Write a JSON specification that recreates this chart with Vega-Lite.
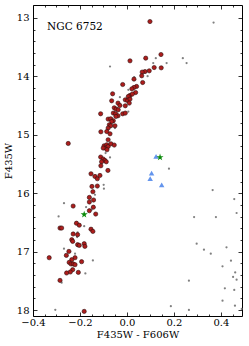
{
  "$schema": "https://vega.github.io/schema/vega-lite/v6.json",
  "width": 209,
  "height": 311,
  "autosize": "none",
  "padding": {"left": 33, "top": 5, "right": 7, "bottom": 30},
  "background": "white",
  "config": {
    "view": {"stroke": "#000", "strokeWidth": 1},
    "font": "DejaVu Serif",
    "axis": {"domain": false, "grid": false, "tickColor": "#000", "tickWidth": 0.8, "labelFont": "DejaVu Serif", "labelFontSize": 10, "labelColor": "#000", "labelFlush": false, "labelOverlap": false, "titleFont": "DejaVu Serif", "titleFontSize": 10, "titleFontWeight": "normal", "titleColor": "#000"}
  },
  "datasets": {
    "red": [
      {"c": 0.098, "m": 13.063}, {"c": 0.080, "m": 13.689}, {"c": 0.145, "m": 13.627}, {"c": 0.146, "m": 13.855},
      {"c": 0.013, "m": 13.735}, {"c": 0.116, "m": 13.85}, {"c": 0.095, "m": 13.906}, {"c": 0.077, "m": 13.918},
      {"c": 0.065, "m": 13.928}, {"c": 0.063, "m": 13.991}, {"c": 0.067, "m": 14.106}, {"c": 0.030, "m": 14.048},
      {"c": -0.018, "m": 14.140}, {"c": 0.041, "m": 14.174}, {"c": 0.030, "m": 14.191}, {"c": 0.021, "m": 14.214},
      {"c": 0.037, "m": 14.277}, {"c": -0.061, "m": 14.299}, {"c": 0.013, "m": 14.328}, {"c": 0.023, "m": 14.304},
      {"c": 0.006, "m": 14.345}, {"c": -0.007, "m": 14.402}, {"c": 0.003, "m": 14.414}, {"c": 0.013, "m": 14.390},
      {"c": -0.065, "m": 14.419}, {"c": 0.010, "m": 14.458}, {"c": -0.038, "m": 14.458}, {"c": -0.030, "m": 14.499},
      {"c": -0.007, "m": 14.504}, {"c": -0.054, "m": 14.538}, {"c": -0.046, "m": 14.561}, {"c": -0.037, "m": 14.573},
      {"c": -0.058, "m": 14.629}, {"c": -0.048, "m": 14.641}, {"c": -0.038, "m": 14.675}, {"c": -0.047, "m": 14.687},
      {"c": -0.018, "m": 14.641}, {"c": -0.007, "m": 14.629}, {"c": -0.112, "m": 14.641}, {"c": -0.080, "m": 14.732},
      {"c": -0.069, "m": 14.726}, {"c": -0.058, "m": 14.761}, {"c": -0.065, "m": 14.773}, {"c": -0.075, "m": 14.829},
      {"c": -0.069, "m": 14.846}, {"c": -0.051, "m": 14.846}, {"c": -0.080, "m": 14.885}, {"c": -0.111, "m": 14.949},
      {"c": -0.086, "m": 14.944}, {"c": -0.072, "m": 14.983}, {"c": -0.250, "m": 15.149}, {"c": -0.080, "m": 15.085},
      {"c": -0.097, "m": 15.188}, {"c": -0.086, "m": 15.171}, {"c": -0.089, "m": 15.227}, {"c": -0.080, "m": 15.200},
      {"c": -0.068, "m": 15.154}, {"c": -0.054, "m": 15.176}, {"c": -0.101, "m": 15.227}, {"c": -0.085, "m": 15.256},
      {"c": -0.112, "m": 15.381}, {"c": -0.101, "m": 15.415}, {"c": -0.094, "m": 15.439}, {"c": -0.088, "m": 15.462},
      {"c": -0.108, "m": 15.462}, {"c": -0.111, "m": 15.530}, {"c": -0.081, "m": 15.610}, {"c": -0.153, "m": 15.667},
      {"c": -0.136, "m": 15.713}, {"c": -0.126, "m": 15.752}, {"c": -0.115, "m": 15.696}, {"c": -0.149, "m": 15.884},
      {"c": -0.126, "m": 15.877}, {"c": -0.145, "m": 15.974}, {"c": -0.160, "m": 16.072}, {"c": -0.142, "m": 16.116},
      {"c": -0.160, "m": 16.150}, {"c": -0.229, "m": 16.219}, {"c": -0.143, "m": 16.239}, {"c": -0.160, "m": 16.299},
      {"c": -0.133, "m": 16.356}, {"c": -0.215, "m": 16.513}, {"c": -0.203, "m": 16.547}, {"c": -0.153, "m": 16.615},
      {"c": -0.145, "m": 16.653}, {"c": -0.285, "m": 16.595}, {"c": -0.278, "m": 16.595}, {"c": -0.229, "m": 16.697},
      {"c": -0.210, "m": 16.709}, {"c": -0.235, "m": 16.795}, {"c": -0.231, "m": 16.824}, {"c": -0.210, "m": 16.880},
      {"c": -0.203, "m": 16.892}, {"c": -0.182, "m": 16.863}, {"c": -0.179, "m": 16.909}, {"c": -0.247, "m": 16.995},
      {"c": -0.258, "m": 17.063}, {"c": -0.331, "m": 17.103}, {"c": -0.221, "m": 17.103}, {"c": -0.235, "m": 17.137},
      {"c": -0.193, "m": 17.171}, {"c": -0.246, "m": 17.183}, {"c": -0.238, "m": 17.210}, {"c": -0.229, "m": 17.210},
      {"c": -0.221, "m": 17.222}, {"c": -0.231, "m": 17.308}, {"c": -0.241, "m": 17.347}, {"c": -0.207, "m": 17.354},
      {"c": -0.257, "m": 17.364}, {"c": -0.285, "m": 17.491}, {"c": -0.182, "m": 18.021}
    ],
    "grey": [
      {"c": -0.072, "m": 13.832}, {"c": 0.369, "m": 13.080}, {"c": 0.238, "m": 13.689}, {"c": 0.254, "m": 13.774},
      {"c": 0.169, "m": 13.774}, {"c": 0.123, "m": 13.689}, {"c": 0.112, "m": 13.774}, {"c": 0.031, "m": 14.014},
      {"c": 0.088, "m": 13.997}, {"c": 0.006, "m": 14.231}, {"c": -0.030, "m": 14.356}, {"c": 0.006, "m": 14.602},
      {"c": -0.051, "m": 14.885}, {"c": -0.091, "m": 15.313}, {"c": -0.072, "m": 15.388}, {"c": 0.179, "m": 15.581},
      {"c": 0.365, "m": 15.945}, {"c": 0.457, "m": 16.099}, {"c": 0.467, "m": 16.338}, {"c": 0.379, "m": 16.407},
      {"c": 0.286, "m": 16.407}, {"c": -0.268, "m": 16.171}, {"c": -0.291, "m": 16.397}, {"c": -0.099, "m": 15.855},
      {"c": -0.098, "m": 15.923}, {"c": -0.136, "m": 16.026}, {"c": -0.174, "m": 16.236}, {"c": -0.150, "m": 16.282},
      {"c": -0.182, "m": 16.564}, {"c": -0.210, "m": 16.670}, {"c": -0.212, "m": 16.749}, {"c": -0.268, "m": 16.949},
      {"c": -0.221, "m": 17.034}, {"c": -0.145, "m": 17.149}, {"c": -0.177, "m": 17.371}, {"c": -0.278, "m": 17.530},
      {"c": -0.305, "m": 17.995}, {"c": 0.297, "m": 16.863}, {"c": 0.328, "m": 16.966}, {"c": 0.357, "m": 17.034},
      {"c": 0.424, "m": 16.926}, {"c": 0.443, "m": 17.154}, {"c": 0.407, "m": 17.251}, {"c": 0.461, "m": 17.354},
      {"c": 0.452, "m": 17.432}, {"c": 0.467, "m": 17.479}, {"c": 0.264, "m": 17.496}, {"c": 0.417, "m": 17.627},
      {"c": 0.457, "m": 17.655}, {"c": 0.407, "m": 17.838}, {"c": 0.187, "m": 17.932}, {"c": 0.264, "m": 17.997},
      {"c": 0.460, "m": 17.923}, {"c": 0.489, "m": 17.979}
    ],
    "blue": [
      {"c": 0.124, "m": 15.371}, {"c": 0.105, "m": 15.655}, {"c": 0.099, "m": 15.752}, {"c": 0.148, "m": 15.855}
    ],
    "green": [
      {"c": -0.182, "m": 16.364}, {"c": 0.141, "m": 15.385}
    ],
    "label": [{"t": "NGC 6752", "c": -0.340, "m": 13.16}]
  },
  "resolve": {"axis": {"x": "independent", "y": "independent"}},
  "layer": [
    {
      "data": {"name": "grey"},
      "mark": {"type": "point", "shape": "circle", "filled": true, "size": 5, "color": "#6a6a6a", "opacity": 0.85},
      "encoding": {
        "x": {"field": "c", "type": "quantitative", "scale": {"domain": [-0.4, 0.49], "nice": false, "zero": false},
          "axis": {"orient": "bottom", "values": [-0.35, -0.3, -0.25, -0.15, -0.1, -0.05, 0.05, 0.1, 0.15, 0.25, 0.3, 0.35, 0.45], "tickSize": -2, "labels": false, "title": null}},
        "y": {"field": "m", "type": "quantitative", "scale": {"domain": [12.78, 18.1], "nice": false, "zero": false, "reverse": true},
          "axis": {"orient": "left", "values": [13.2, 13.4, 13.6, 13.8, 14.2, 14.4, 14.6, 14.8, 15.2, 15.4, 15.6, 15.8, 16.2, 16.4, 16.6, 16.8, 17.2, 17.4, 17.6, 17.8], "tickSize": -2, "labels": false, "title": null}}
      }
    },
    {
      "data": {"name": "red"},
      "mark": {"type": "point", "shape": "circle", "filled": true, "size": 18, "fill": "#ad1d1c", "stroke": "#2e0e0e", "strokeWidth": 0.6, "opacity": 1},
      "encoding": {
        "x": {"field": "c", "type": "quantitative", "scale": {"domain": [-0.4, 0.49], "nice": false, "zero": false},
          "axis": {"orient": "bottom", "values": [-0.4, -0.2, 0, 0.2, 0.4], "format": ".1f", "tickSize": -4, "labelPadding": 5, "title": "F435W - F606W", "titlePadding": 2}},
        "y": {"field": "m", "type": "quantitative", "scale": {"domain": [12.78, 18.1], "nice": false, "zero": false, "reverse": true},
          "axis": {"orient": "left", "values": [13, 14, 15, 16, 17, 18], "format": "d", "tickSize": -4, "labelPadding": 8, "title": "F435W", "titlePadding": 3}}
      }
    },
    {
      "data": {"name": "blue"},
      "mark": {"type": "point", "shape": "triangle-up", "filled": true, "size": 30, "color": "#6495ed", "opacity": 1},
      "encoding": {
        "x": {"field": "c", "type": "quantitative", "scale": {"domain": [-0.4, 0.49], "nice": false, "zero": false},
          "axis": {"orient": "top", "values": [-0.35, -0.3, -0.25, -0.15, -0.1, -0.05, 0.05, 0.1, 0.15, 0.25, 0.3, 0.35, 0.45], "tickSize": -2, "labels": false, "title": null}},
        "y": {"field": "m", "type": "quantitative", "scale": {"domain": [12.78, 18.1], "nice": false, "zero": false, "reverse": true},
          "axis": {"orient": "right", "values": [13.2, 13.4, 13.6, 13.8, 14.2, 14.4, 14.6, 14.8, 15.2, 15.4, 15.6, 15.8, 16.2, 16.4, 16.6, 16.8, 17.2, 17.4, 17.6, 17.8], "tickSize": -2, "labels": false, "title": null}}
      }
    },
    {
      "data": {"name": "green"},
      "mark": {"type": "point", "shape": "M0,-1L0.2245,-0.309L0.951,-0.309L0.363,0.118L0.588,0.809L0,0.382L-0.588,0.809L-0.363,0.118L-0.951,-0.309L-0.2245,-0.309Z", "filled": true, "size": 55, "color": "#0a8a0a", "opacity": 1},
      "encoding": {
        "x": {"field": "c", "type": "quantitative", "scale": {"domain": [-0.4, 0.49], "nice": false, "zero": false},
          "axis": {"orient": "top", "values": [-0.4, -0.2, 0, 0.2, 0.4], "tickSize": -4, "labels": false, "title": null}},
        "y": {"field": "m", "type": "quantitative", "scale": {"domain": [12.78, 18.1], "nice": false, "zero": false, "reverse": true},
          "axis": {"orient": "right", "values": [13, 14, 15, 16, 17, 18], "tickSize": -4, "labels": false, "title": null}}
      }
    },
    {
      "data": {"name": "label"},
      "mark": {"type": "text", "align": "left", "baseline": "middle", "font": "DejaVu Serif", "fontSize": 10.5, "color": "#000"},
      "encoding": {
        "x": {"field": "c", "type": "quantitative", "scale": {"domain": [-0.4, 0.49], "nice": false, "zero": false}, "axis": null},
        "y": {"field": "m", "type": "quantitative", "scale": {"domain": [12.78, 18.1], "nice": false, "zero": false, "reverse": true}, "axis": null},
        "text": {"field": "t", "type": "nominal"}
      }
    }
  ]
}
